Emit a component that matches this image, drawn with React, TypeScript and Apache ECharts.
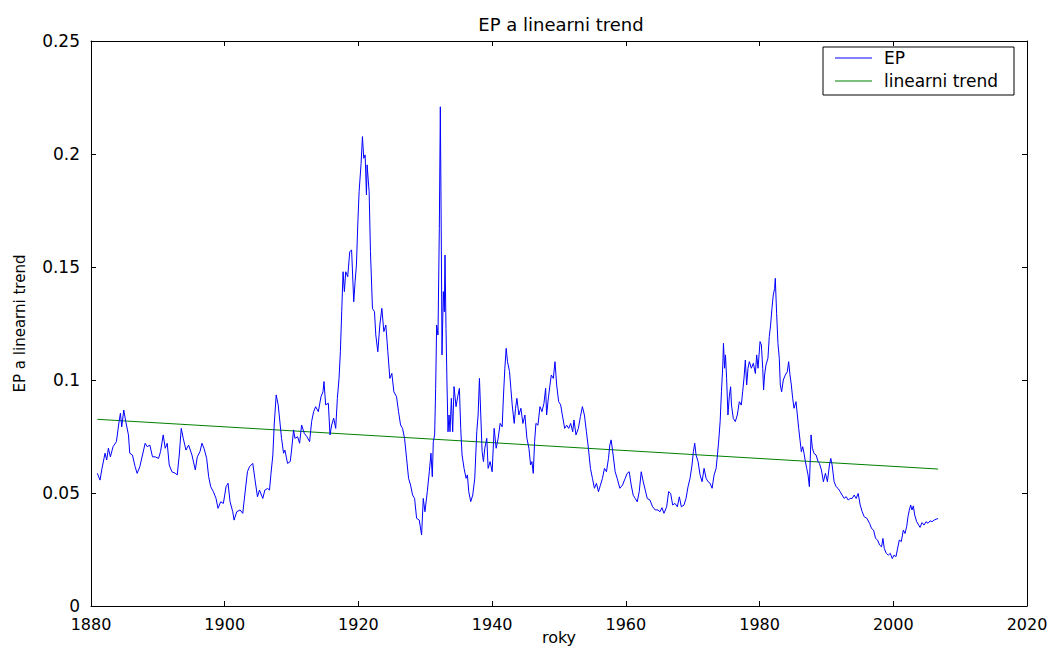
import React, { useEffect, useRef } from "react";
import * as echarts from "echarts";

const epYears: number[] = [
  1880.95, 1881.35, 1881.6, 1882.1, 1882.35, 1882.6, 1882.9, 1883.3, 1883.8, 1884.2, 1884.4, 1884.6, 1884.9, 1885.2, 1885.6, 1885.8,
  1886.2, 1886.6, 1886.9, 1887.3, 1887.7, 1888.1, 1888.4, 1888.8, 1889.2, 1889.6, 1890.1, 1890.4, 1890.8, 1891.1, 1891.4, 1891.7,
  1892.1, 1892.6, 1892.9, 1893.2, 1893.5, 1893.8, 1894.2, 1894.6, 1895.1, 1895.6, 1895.9, 1896.3, 1896.6, 1896.9, 1897.3, 1897.6,
  1897.9, 1898.3, 1898.7, 1899.0, 1899.4, 1899.8, 1900.2, 1900.5, 1900.8, 1901.2, 1901.4, 1901.8, 1902.3, 1902.7, 1903.0, 1903.4,
  1903.7, 1904.2, 1904.5, 1904.9, 1905.2,
  1905.7, 1906.0, 1906.4, 1906.7, 1906.9, 1907.2, 1907.4, 1907.7, 1908.0, 1908.3, 1908.5, 1908.8, 1909.0, 1909.4, 1909.8, 1910.0,
  1910.3, 1910.5, 1910.9, 1911.2, 1911.5, 1911.9, 1912.3, 1912.7, 1913.0, 1913.3, 1913.6, 1914.0, 1914.4, 1914.7, 1914.85, 1915.1,
  1915.5, 1915.75, 1916.0, 1916.3, 1916.6, 1916.85, 1917.1, 1917.3, 1917.5, 1917.7, 1917.9, 1918.1, 1918.4, 1918.7, 1918.98, 1919.3,
  1919.5, 1919.7, 1919.9, 1920.1, 1920.4, 1920.6, 1920.8, 1921.0, 1921.2, 1921.3, 1921.6, 1921.8, 1922.1, 1922.4, 1922.6, 1922.9,
  1923.2, 1923.5, 1923.8, 1924.1, 1924.4, 1924.7, 1925.0, 1925.3, 1925.7, 1926.0, 1926.3, 1926.6, 1926.9, 1927.2, 1927.5, 1927.8,
  1928.1, 1928.4,
  1928.7, 1929.1, 1929.45, 1929.7, 1929.95, 1930.3, 1930.6, 1930.85, 1931.05, 1931.2, 1931.4, 1931.55, 1931.7, 1931.9, 1932.1, 1932.25,
  1932.4, 1932.5, 1932.7, 1932.85, 1932.95, 1933.1, 1933.25, 1933.4, 1933.55, 1933.7, 1933.9, 1934.1, 1934.3, 1934.6, 1934.85, 1935.1,
  1935.3, 1935.5, 1935.8, 1936.1, 1936.3, 1936.5, 1936.8, 1937.1, 1937.4, 1937.7, 1937.9, 1938.1, 1938.3, 1938.5, 1938.7, 1938.9,
  1939.2, 1939.4, 1939.7, 1940.0, 1940.3, 1940.6, 1940.9, 1941.2, 1941.5, 1941.7, 1941.9, 1942.1, 1942.3, 1942.6, 1942.8, 1943.0,
  1943.3, 1943.5, 1943.7, 1944.0, 1944.3, 1944.6, 1944.9, 1945.2, 1945.5, 1945.75, 1945.95, 1946.15, 1946.35, 1946.55, 1946.85, 1947.15,
  1947.45, 1947.75, 1948.0, 1948.15, 1948.35, 1948.65, 1948.85, 1949.15, 1949.4, 1949.65, 1949.95, 1950.25, 1950.5, 1950.85, 1951.15, 1951.45,
  1951.75, 1952.05,
  1952.24, 1952.54, 1952.9, 1953.2, 1953.5, 1953.8, 1954.1, 1954.4, 1954.7, 1955.0, 1955.3, 1955.6, 1955.9, 1956.2, 1956.5, 1956.8,
  1957.1, 1957.4, 1957.6, 1957.8, 1958.1, 1958.4, 1958.7, 1959.1, 1959.5, 1959.9, 1960.2, 1960.5, 1960.8, 1961.1, 1961.4, 1961.7,
  1962.0, 1962.3, 1962.6, 1962.9, 1963.2, 1963.6, 1964.0, 1964.4, 1964.8, 1965.1, 1965.4, 1965.7, 1966.1, 1966.4, 1966.7, 1967.0,
  1967.35, 1967.7, 1968.0, 1968.3, 1968.7, 1969.0, 1969.3, 1969.6, 1969.9, 1970.1, 1970.3, 1970.5, 1970.8, 1971.1, 1971.4, 1971.7,
  1972.0, 1972.3, 1972.6, 1972.9, 1973.2, 1973.5, 1973.7, 1973.9, 1974.1, 1974.3, 1974.5, 1974.6, 1974.77, 1974.9, 1975.07, 1975.27,
  1975.47, 1975.67,
  1975.8, 1976.07, 1976.37, 1976.67, 1976.97, 1977.27, 1977.47, 1977.67, 1977.87, 1978.07, 1978.27, 1978.47, 1978.77, 1979.07, 1979.37, 1979.57,
  1979.77, 1980.07, 1980.27, 1980.47, 1980.6, 1980.75, 1980.95, 1981.25, 1981.45, 1981.65, 1981.85, 1982.05, 1982.25, 1982.35, 1982.55, 1982.75,
  1982.95, 1983.1, 1983.3, 1983.55, 1983.85, 1984.15, 1984.35, 1984.55, 1984.75, 1984.95, 1985.15, 1985.45, 1985.65, 1985.85, 1986.05, 1986.25,
  1986.45, 1986.65, 1986.85, 1987.05, 1987.25, 1987.45, 1987.55, 1987.7, 1987.9, 1988.15, 1988.45, 1988.75, 1988.95, 1989.25, 1989.55, 1989.85,
  1990.15, 1990.45, 1990.65, 1990.85, 1991.15, 1991.45, 1991.75, 1992.05, 1992.35, 1992.65, 1992.95, 1993.25, 1993.55, 1993.85, 1994.15, 1994.45,
  1994.75, 1995.05, 1995.35, 1995.65, 1996.05, 1996.45, 1996.75, 1997.05, 1997.35, 1997.65, 1997.95, 1998.25, 1998.45, 1998.65, 1998.95, 1999.25,
  1999.55, 1999.85,
  2000.1, 2000.4, 2000.6, 2000.9, 2001.2, 2001.5, 2001.75, 2002.0, 2002.2, 2002.4, 2002.6, 2002.8, 2003.0, 2003.2, 2003.5, 2003.8,
  2004.0, 2004.3, 2004.6, 2004.9, 2005.2, 2005.5, 2005.8, 2006.1, 2006.4, 2006.7,
];

const epValues: number[] = [
  0.0587, 0.0557, 0.0602, 0.0676, 0.0646, 0.0698, 0.066, 0.0705, 0.0727, 0.0816, 0.0853, 0.0793, 0.0867, 0.0816, 0.0757, 0.0676,
  0.0668, 0.0616, 0.0587, 0.0616, 0.0668, 0.072, 0.0705, 0.0712, 0.066, 0.066, 0.0653, 0.0683, 0.0757, 0.0698, 0.072, 0.0624,
  0.0594, 0.0587, 0.058, 0.0668, 0.0786, 0.0742, 0.069, 0.0712, 0.0668, 0.0602, 0.066, 0.0683, 0.072, 0.0698, 0.0653, 0.0572,
  0.0528, 0.0506, 0.0476, 0.0432, 0.0461, 0.0454, 0.0528, 0.0543, 0.0461, 0.0417, 0.038, 0.0417, 0.0425, 0.041, 0.0491, 0.0594,
  0.0616, 0.0631, 0.0565, 0.0483, 0.0513,
  0.0476, 0.0513, 0.052, 0.0513, 0.058, 0.0668, 0.0801, 0.0934, 0.089, 0.0801, 0.0742, 0.0676, 0.069, 0.0631, 0.0639, 0.069,
  0.0779, 0.0742, 0.0749, 0.072, 0.0801, 0.0764, 0.0749, 0.0727, 0.0816, 0.086, 0.0882, 0.086, 0.0926, 0.0948, 0.0993, 0.089,
  0.0897, 0.0757, 0.0801, 0.0831, 0.0786, 0.0919, 0.1007, 0.1125, 0.1302, 0.1479, 0.1391, 0.1479, 0.1457, 0.1568, 0.1575, 0.1346,
  0.1435, 0.1509, 0.1686, 0.1833, 0.1959, 0.2077, 0.1981, 0.1996, 0.1819, 0.1952, 0.1833, 0.1568, 0.1317, 0.1302, 0.1199, 0.1125,
  0.1243, 0.1317, 0.1214, 0.1243, 0.1125, 0.1007, 0.1029, 0.0948, 0.0926, 0.086, 0.0801, 0.0786, 0.0742, 0.0654, 0.0565, 0.0535,
  0.0491, 0.0476,
  0.0388, 0.038, 0.0314, 0.0476, 0.0417, 0.0506, 0.0594, 0.0676, 0.0572, 0.0727, 0.0757, 0.0963, 0.1243, 0.1199, 0.1671, 0.2209,
  0.1597, 0.1111, 0.1391, 0.1302, 0.1553, 0.1228, 0.0978, 0.0771, 0.0845, 0.0771, 0.0919, 0.0771, 0.0971, 0.0882, 0.0926, 0.0963,
  0.0786, 0.0668, 0.0609, 0.0565, 0.058, 0.0506, 0.0462, 0.0491, 0.0565, 0.0771, 0.0845, 0.1007, 0.0845, 0.0683, 0.0639, 0.0698,
  0.0742, 0.0609, 0.0639, 0.0594, 0.0786, 0.0698, 0.0742, 0.0808, 0.0793, 0.0934, 0.1052, 0.114, 0.1081, 0.1037, 0.0963, 0.089,
  0.0808, 0.0875, 0.0919, 0.0845, 0.0875, 0.0808, 0.0845, 0.0742, 0.0698, 0.0624, 0.0639, 0.0587, 0.0727, 0.0808, 0.08, 0.0882,
  0.086, 0.0897, 0.0963, 0.0845, 0.0904, 0.0978, 0.1022, 0.1007, 0.1081, 0.0978, 0.0904, 0.089, 0.0845, 0.0786, 0.08, 0.0786,
  0.0808, 0.0771,
  0.0823, 0.0757, 0.0786, 0.0838, 0.0882, 0.0845, 0.0771, 0.0698, 0.0609, 0.0565, 0.0521, 0.0543, 0.0506, 0.0535, 0.0565, 0.0609,
  0.0594, 0.0653, 0.0712, 0.0735, 0.0668, 0.0594, 0.0565, 0.0521, 0.0535, 0.0565, 0.0587, 0.0594, 0.0535, 0.049, 0.0476, 0.0461,
  0.0506, 0.0594, 0.055, 0.0513, 0.0476, 0.0469, 0.0439, 0.0425, 0.0425, 0.0417, 0.0435, 0.041, 0.0439, 0.0506, 0.0498, 0.0447,
  0.0454, 0.0439, 0.0483, 0.0439, 0.0447, 0.0476, 0.0528, 0.0565, 0.0624, 0.0683, 0.072, 0.0668, 0.0639, 0.058, 0.055, 0.0609,
  0.0565, 0.055, 0.0543, 0.0521, 0.058, 0.0609, 0.0668, 0.0735, 0.0816, 0.0948, 0.1066, 0.1162, 0.1052, 0.1111, 0.1007, 0.0845,
  0.0926, 0.097,
  0.0889, 0.083, 0.0816, 0.0845, 0.0904, 0.0889, 0.0948, 0.1007, 0.1088, 0.0978, 0.1052, 0.1081, 0.1052, 0.1074, 0.1029, 0.1111,
  0.1052, 0.117, 0.1155, 0.1052, 0.0956, 0.1022, 0.1066, 0.1096, 0.1192, 0.1243, 0.1317, 0.1376, 0.1405, 0.145, 0.1295, 0.1162,
  0.1096, 0.0978, 0.0948, 0.1, 0.1022, 0.1037, 0.1081, 0.1022, 0.0978, 0.0919, 0.0875, 0.0904, 0.0845, 0.0786, 0.0734, 0.0683,
  0.0705, 0.0675, 0.0639, 0.0609, 0.058, 0.0528, 0.0624, 0.0757, 0.0698, 0.0675, 0.0668, 0.0639, 0.0631, 0.0602, 0.055, 0.0587,
  0.055, 0.0624, 0.0653, 0.0624, 0.055, 0.0528, 0.052, 0.0506, 0.0491, 0.0476, 0.0484, 0.0469, 0.0476, 0.0476, 0.0491, 0.0476,
  0.0498, 0.0447, 0.0417, 0.0395, 0.0388, 0.0366, 0.0343, 0.0336, 0.0299, 0.0292, 0.027, 0.0262, 0.0299, 0.0255, 0.0233, 0.0225,
  0.0233, 0.021,
  0.0225, 0.0218, 0.0248, 0.0292, 0.0285, 0.0336, 0.0321, 0.0351, 0.0395, 0.0425, 0.0447, 0.0425, 0.0443, 0.0403, 0.0373, 0.0358,
  0.0348, 0.0369, 0.0358, 0.0373, 0.0366, 0.0377, 0.0373, 0.038, 0.0384, 0.0387,
];

const trendYears: number[] = [1880.95, 2006.7];
const trendValues: number[] = [0.0826, 0.0606];

const seriesNames: string[] = ["EP", "linearni trend"];
const titleText = "EP a linearni trend";
const xAxisName = "roky";
const yAxisName = "EP a linearni trend";

const FONT = "DejaVu Sans";

export default function App() {
  const ref = useRef<HTMLDivElement>(null);

  useEffect(() => {
    document.body.style.margin = "0";
    if (!ref.current) return;
    const chart = echarts.init(ref.current, null, { renderer: "svg" });

    const epData = epYears.map((y, i) => [y, epValues[i]]);
    const trendData = trendYears.map((y, i) => [y, trendValues[i]]);

    const xBase = {
      type: "value" as const,
      min: 1880,
      max: 2020,
      interval: 20,
      splitLine: { show: false },
      axisLine: { show: true, onZero: false, lineStyle: { color: "#000", width: 1 } },
      axisTick: { show: true, inside: true, length: 5, lineStyle: { color: "#000" } },
    };
    const yBase = {
      type: "value" as const,
      min: 0,
      max: 0.25,
      interval: 0.05,
      splitLine: { show: false },
      axisLine: { show: true, onZero: false, lineStyle: { color: "#000", width: 1 } },
      axisTick: { show: true, inside: true, length: 5, lineStyle: { color: "#000" } },
    };

    chart.setOption({
      animation: false,
      backgroundColor: "#fff",
      title: {
        text: titleText,
        left: 556,
        textAlign: "center",
        top: 10,
        textStyle: { fontFamily: FONT, fontSize: 18, fontWeight: "normal", color: "#000" },
      },
      grid: { left: 91, right: 23, top: 41, bottom: 42, containLabel: false, outerBoundsMode: "none" },
      legend: {
        orient: "vertical",
        left: 823,
        top: 47,
        padding: [1, 16, 4, 12],
        itemGap: 3,
        itemWidth: 37,
        itemHeight: 1,
        borderColor: "#000",
        borderWidth: 1,
        borderRadius: 0,
        backgroundColor: "#fff",
        textStyle: { fontFamily: FONT, fontSize: 17, color: "#000", padding: [0, 0, 0, 7], lineHeight: 20 },
        data: [
          { name: seriesNames[0], icon: "rect" },
          { name: seriesNames[1], icon: "rect" },
        ],
      },
      xAxis: [
        {
          ...xBase,
          position: "bottom",
          name: xAxisName,
          nameLocation: "middle",
          nameGap: 23,
          nameMoveOverlap: false,
          nameTextStyle: { fontFamily: FONT, fontSize: 16, color: "#000", lineHeight: 16 },
          axisLabel: {
            show: true,
            margin: 10,
            showMinLabel: true,
            showMaxLabel: true,
            fontFamily: FONT,
            fontSize: 16,
            lineHeight: 16,
            color: "#000",
            formatter: (v: number) => String(v),
          },
        },
        {
          ...xBase,
          position: "top",
          axisLabel: { show: false },
        },
      ],
      yAxis: [
        {
          ...yBase,
          position: "left",
          name: yAxisName,
          nameLocation: "middle",
          nameRotate: 90,
          nameGap: 64,
          nameMoveOverlap: false,
          nameTextStyle: { fontFamily: FONT, fontSize: 15, color: "#000" },
          axisLabel: {
            show: true,
            margin: 11,
            showMinLabel: true,
            showMaxLabel: true,
            fontFamily: FONT,
            fontSize: 17,
            lineHeight: 15,
            color: "#000",
            formatter: (v: number) => String(Math.round(v * 100) / 100),
          },
        },
        {
          ...yBase,
          position: "right",
          axisLabel: { show: false },
        },
      ],
      series: [
        {
          name: seriesNames[0],
          type: "line",
          xAxisIndex: 0,
          yAxisIndex: 0,
          data: epData,
          showSymbol: false,
          symbol: "none",
          lineStyle: { color: "#0000ff", width: 1 },
          itemStyle: { color: "#0000ff" },
          z: 3,
        },
        {
          name: seriesNames[1],
          type: "line",
          xAxisIndex: 0,
          yAxisIndex: 0,
          data: trendData,
          showSymbol: false,
          symbol: "none",
          lineStyle: { color: "#008000", width: 1 },
          itemStyle: { color: "#008000" },
          z: 2,
        },
      ],
    });

    return () => {
      chart.dispose();
    };
  }, []);

  return <div ref={ref} style={{ width: 1050, height: 648 }} />;
}
